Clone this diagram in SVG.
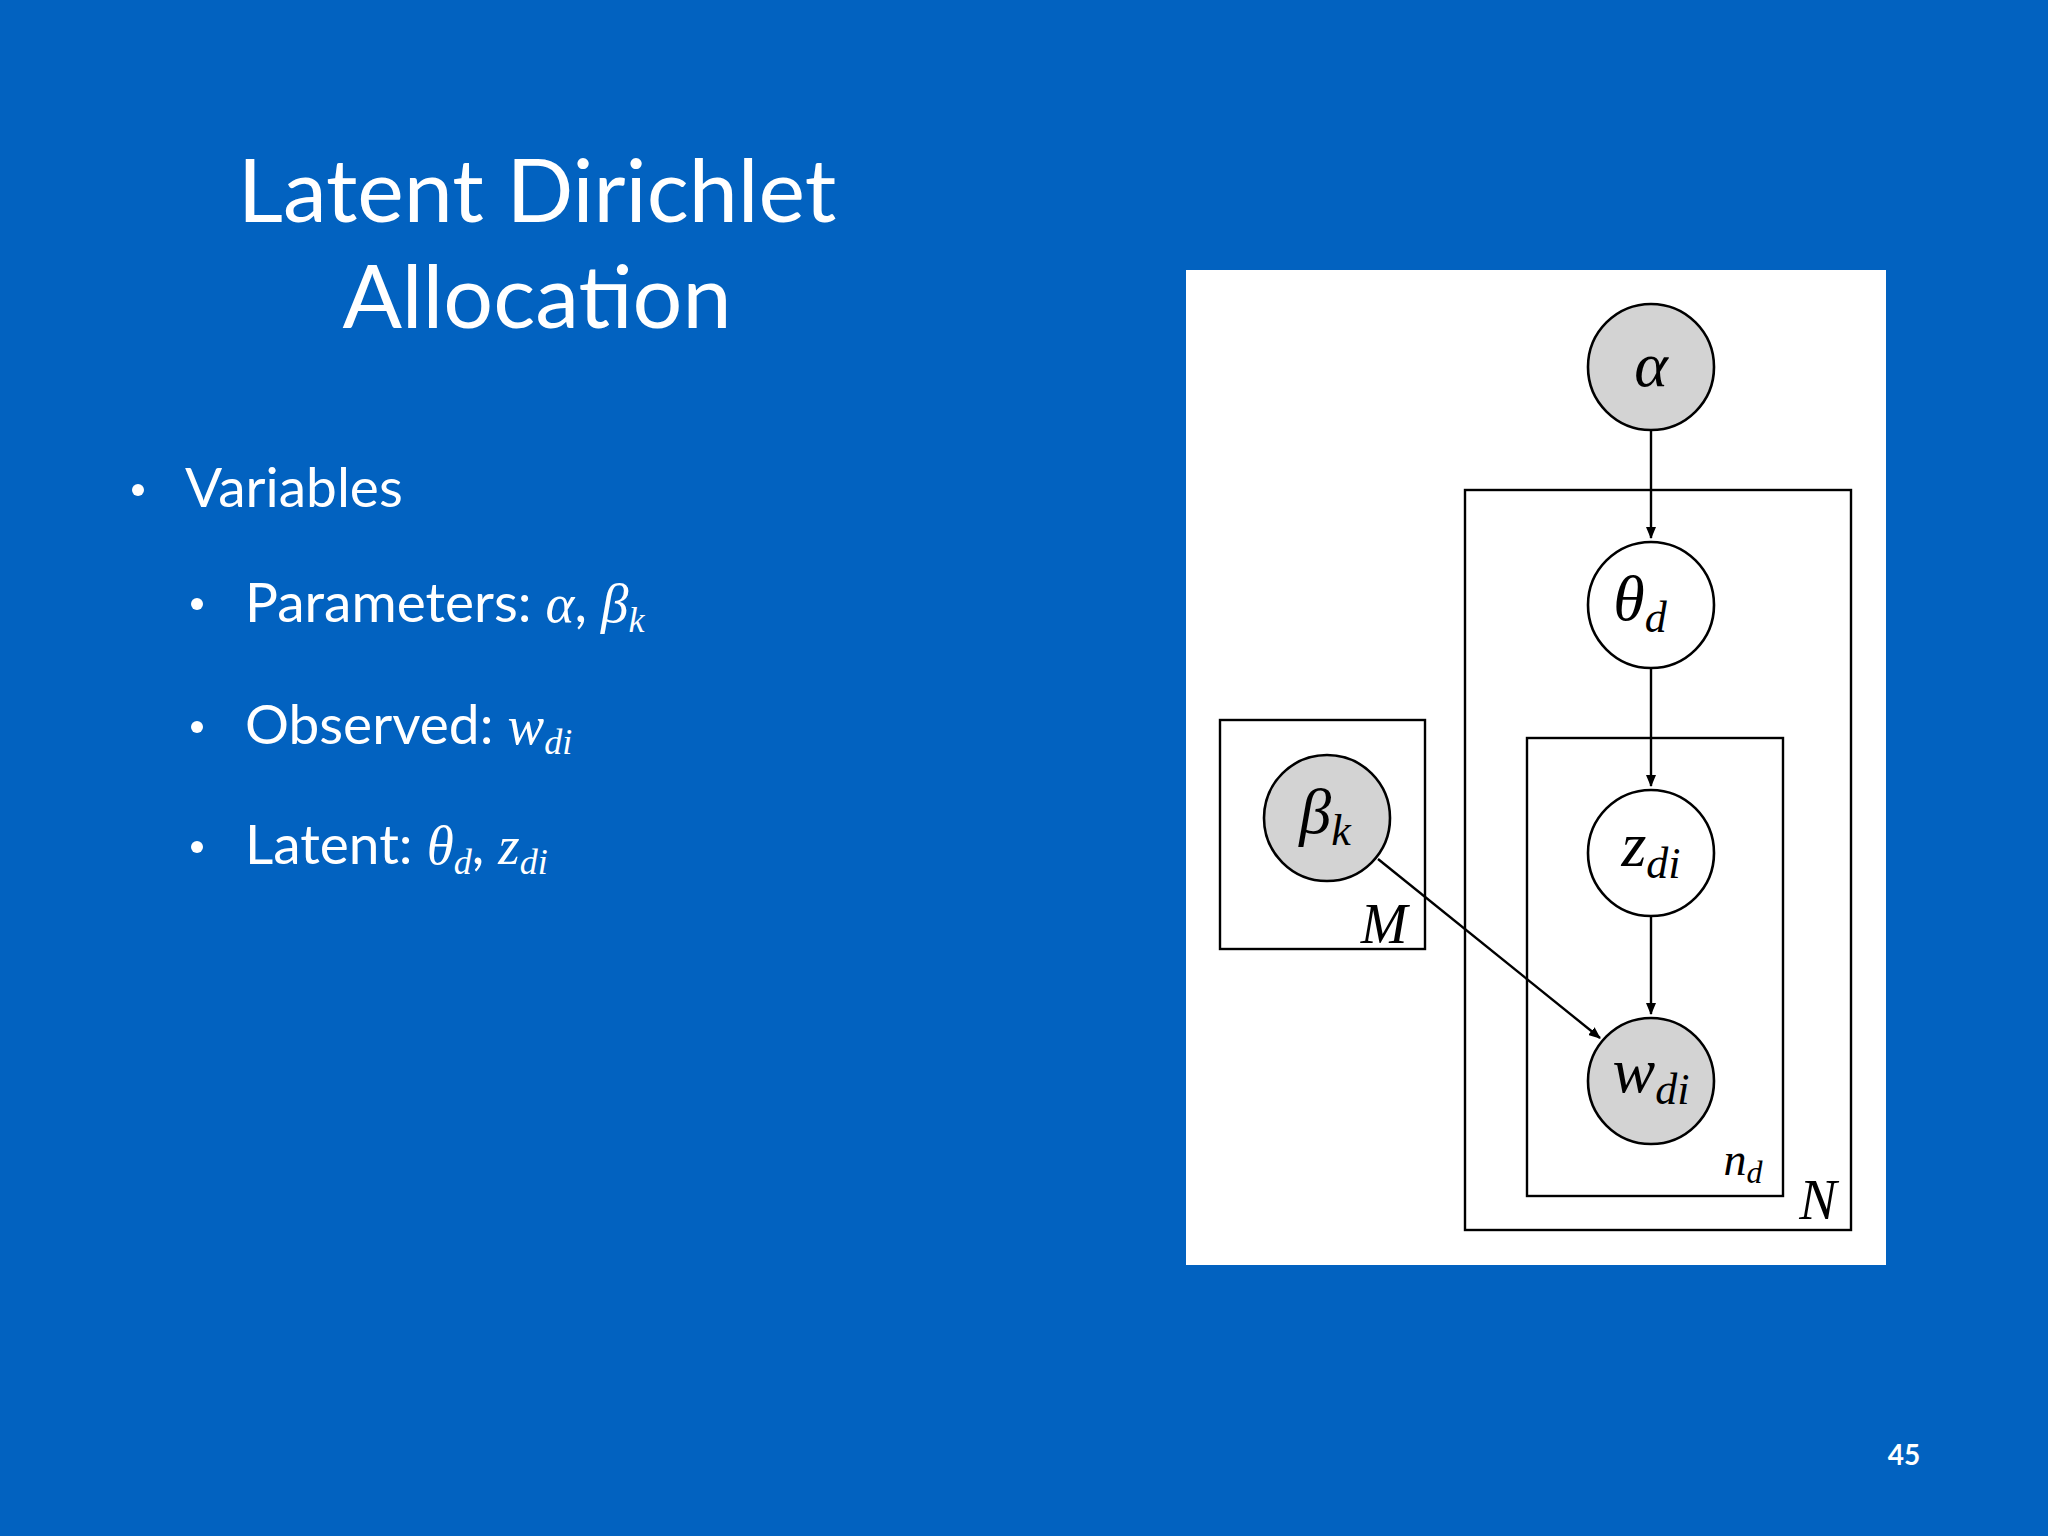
<svg xmlns="http://www.w3.org/2000/svg" width="2048" height="1536" viewBox="0 0 2048 1536">
<style>
.t{font-family:Lato,"Open Sans",sans-serif;fill:#fff}
.m{font-family:"Liberation Serif","DejaVu Serif",serif;font-style:italic;fill:#000}
.mw{font-family:"Liberation Serif","DejaVu Serif",serif;font-style:italic;fill:#fff}
.n{stroke:#000;stroke-width:2.6}
.p{fill:none;stroke:#000;stroke-width:2.4}
.e{stroke:#000;stroke-width:2.4;fill:none;marker-end:url(#a)}
</style>
<defs><marker id="a" markerWidth="12" markerHeight="10" refX="11" refY="5" orient="auto" markerUnits="userSpaceOnUse" viewBox="0 0 12 10"><path d="M0,0 L12,5 L0,10 z" fill="#000"/></marker>
<marker id="b" markerWidth="14" markerHeight="22" refX="22" refY="7" orient="auto" markerUnits="userSpaceOnUse" viewBox="0 0 22 14"><path d="M0,0 L22,7 L0,14 z" fill="#000"/></marker></defs>
<rect width="2048" height="1536" fill="#0262C0"/>
<g id="title"><text class="t" x="537" y="222" font-size="88" text-anchor="middle">Latent Dirichlet</text>
<text class="t" x="537" y="328" font-size="88" text-anchor="middle">Allocation</text></g>
<g id="bullets" font-size="55">
<circle cx="138" cy="490" r="6" fill="#fff"/><text class="t" x="185" y="507" font-size="55">Variables</text>
<circle cx="197" cy="604" r="6" fill="#fff"/><text class="t" x="245" y="622" font-size="55">Parameters: <tspan class="mw">α</tspan>, <tspan class="mw">β<tspan font-size="36" dy="10">k</tspan></tspan></text>
<circle cx="197" cy="727" r="6" fill="#fff"/><text class="t" x="245" y="744" font-size="55">Observed: <tspan class="mw">w<tspan font-size="36" dy="10">di</tspan></tspan></text>
<circle cx="197" cy="847" r="6" fill="#fff"/><text class="t" x="245" y="864" font-size="55">Latent: <tspan class="mw">θ<tspan font-size="36" dy="10">d</tspan></tspan><tspan dy="-10">, </tspan><tspan class="mw">z<tspan font-size="36" dy="10">di</tspan></tspan></text>
</g>
<rect x="1186" y="270" width="700" height="995" fill="#fff"/>
<g id="plates">
<rect class="p" x="1465" y="490" width="386" height="740"/>
<rect class="p" x="1527" y="738" width="256" height="458"/>
<rect class="p" x="1220" y="720" width="205" height="229"/>
<text class="m" x="1384" y="943" font-size="56" text-anchor="middle">M</text>
<text class="m" x="1818" y="1219" font-size="56" text-anchor="middle">N</text>
<text class="m" x="1743" y="1175" font-size="46" text-anchor="middle">n<tspan font-size="32" dy="8">d</tspan></text>
</g>
<g id="connectors">
<line class="e" x1="1651" y1="430" x2="1651" y2="538" marker-end="url(#b)"/>
<line class="e" x1="1651" y1="668" x2="1651" y2="786" marker-end="url(#b)"/>
<line class="e" x1="1651" y1="916" x2="1651" y2="1014" marker-end="url(#b)"/>
<line class="e" x1="1378" y1="859" x2="1600" y2="1038" marker-end="url(#b)"/>
</g>
<g id="alpha"><circle class="n" cx="1651" cy="367" r="63" fill="#D3D3D3"/><text class="m" x="1651" y="386" font-size="64" text-anchor="middle">α</text></g>
<g id="theta"><circle class="n" cx="1651" cy="605" r="63" fill="#fff"/><text class="m" x="1640" y="620" font-size="64" text-anchor="middle">θ<tspan font-size="44" dy="12">d</tspan></text></g>
<g id="z"><circle class="n" cx="1651" cy="853" r="63" fill="#fff"/><text class="m" x="1651" y="866" font-size="64" text-anchor="middle">z<tspan font-size="44" dy="12">di</tspan></text></g>
<g id="w"><circle class="n" cx="1651" cy="1081" r="63" fill="#D3D3D3"/><text class="m" x="1651" y="1092" font-size="64" text-anchor="middle">w<tspan font-size="44" dy="12">di</tspan></text></g>
<g id="beta"><circle class="n" cx="1327" cy="818" r="63" fill="#D3D3D3"/><text class="m" x="1325" y="833" font-size="64" text-anchor="middle">β<tspan font-size="44" dy="12">k</tspan></text></g>
<text class="t" x="1904" y="1465" font-size="28" font-weight="bold" text-anchor="middle">45</text>
</svg>
